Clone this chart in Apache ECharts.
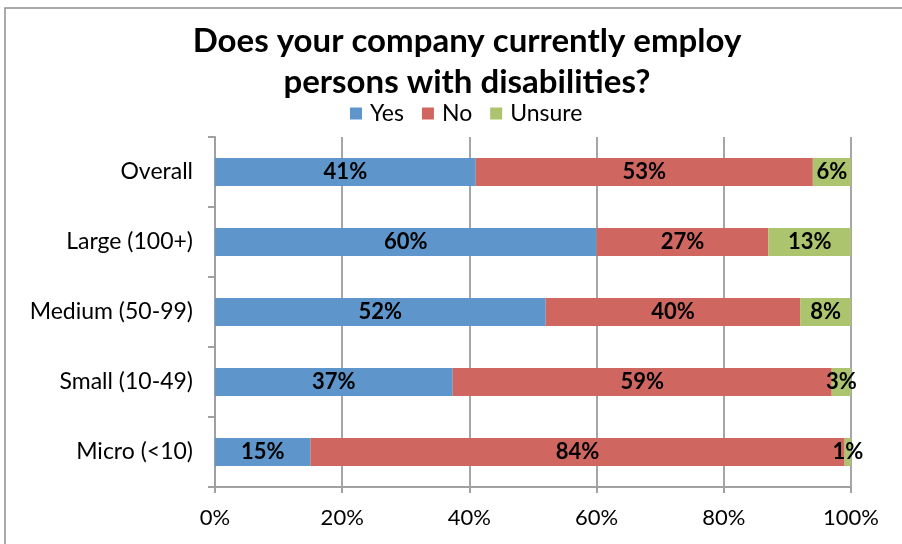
<!DOCTYPE html>
<html>
<head>
<meta charset="utf-8">
<script src="https://cdn.jsdelivr.net/npm/echarts@6/dist/echarts.min.js"></script>
<style>
  html, body { margin: 0; padding: 0; background: #fff; }
  #chart { width: 902px; height: 544px; }
</style>
</head>
<body>
<div id="chart"></div>
<script>
// Survey answers by company size (percent of respondents)
const categories = ['Overall', 'Large (100+)', 'Medium (50-99)', 'Small (10-49)', 'Micro (<10)'];
const yesValues = [41, 60, 52, 37, 15];
const noValues = [53, 27, 40, 59, 84];
const unsureValues = [6, 13, 8, 3, 1];
const xTicks = [0, 20, 40, 60, 80, 100];

const FONT = 'Lato, "Open Sans", sans-serif';

// 100% stacked: each row is scaled to its own total, labels show the reported value
const totals = categories.map((_, i) => yesValues[i] + noValues[i] + unsureValues[i]);
const share = (arr) => arr.map((v, i) => ({ value: v / totals[i] * 100, raw: v }));

const labelStyle = {
  show: true,
  position: 'inside',
  color: '#000',
  fontFamily: FONT,
  fontWeight: 'bold',
  fontSize: 22,
  formatter: (p) => p.data.raw + '%'
};

function barSeries(name, arr, color) {
  return {
    name: name,
    type: 'bar',
    stack: 'total',
    barWidth: 28,
    data: share(arr),
    itemStyle: { color: color },
    label: labelStyle,
    emphasis: { disabled: true }
  };
}

const chart = echarts.init(document.getElementById('chart'), null, { renderer: 'canvas' });
chart.setOption({
  animation: false,
  graphic: [{
    type: 'rect',
    shape: { x: 5, y: 8, width: 910, height: 560 },
    style: { fill: 'none', stroke: '#8e8e8e', lineWidth: 1.5 },
    silent: true
  }],
  title: {
    text: 'Does your company currently employ\npersons with disabilities?',
    left: 462,
    textAlign: 'center',
    top: 16,
    textStyle: {
      fontFamily: FONT,
      fontWeight: 'bold',
      fontSize: 33,
      lineHeight: 41,
      color: '#000'
    }
  },
  legend: {
    top: 97,
    left: 345,
    itemWidth: 12,
    itemHeight: 12,
    itemGap: 18,
    icon: 'rect',
    textStyle: { fontFamily: FONT, fontSize: 23, color: '#000', padding: [0, 0, 0, 3] },
    data: ['Yes', 'No', 'Unsure']
  },
  grid: { left: 215, right: 51, top: 137, bottom: 57, containLabel: false },
  xAxis: {
    type: 'value',
    min: xTicks[0],
    max: xTicks[xTicks.length - 1],
    interval: xTicks[1] - xTicks[0],
    axisLine: { show: true, lineStyle: { color: '#a0a0a0', width: 2 } },
    axisTick: { show: true, length: 6, lineStyle: { color: '#a0a0a0', width: 2 } },
    splitLine: { show: true, lineStyle: { color: '#a6a6a6', width: 2 } },
    axisLabel: {
      fontFamily: FONT,
      fontSize: 22,
      color: '#000',
      margin: 20,
      formatter: (v) => v + '%'
    }
  },
  yAxis: {
    type: 'category',
    inverse: true,
    data: categories,
    axisLine: { show: true, lineStyle: { color: '#a0a0a0', width: 2 } },
    axisTick: { show: true, length: 7, lineStyle: { color: '#a0a0a0', width: 2 } },
    axisLabel: { fontFamily: FONT, fontSize: 23, color: '#000', margin: 22 }
  },
  series: [
    barSeries('Yes', yesValues, '#5e96cb'),
    barSeries('No', noValues, '#cf6660'),
    barSeries('Unsure', unsureValues, '#abc46d')
  ]
});
</script>
</body>
</html>
